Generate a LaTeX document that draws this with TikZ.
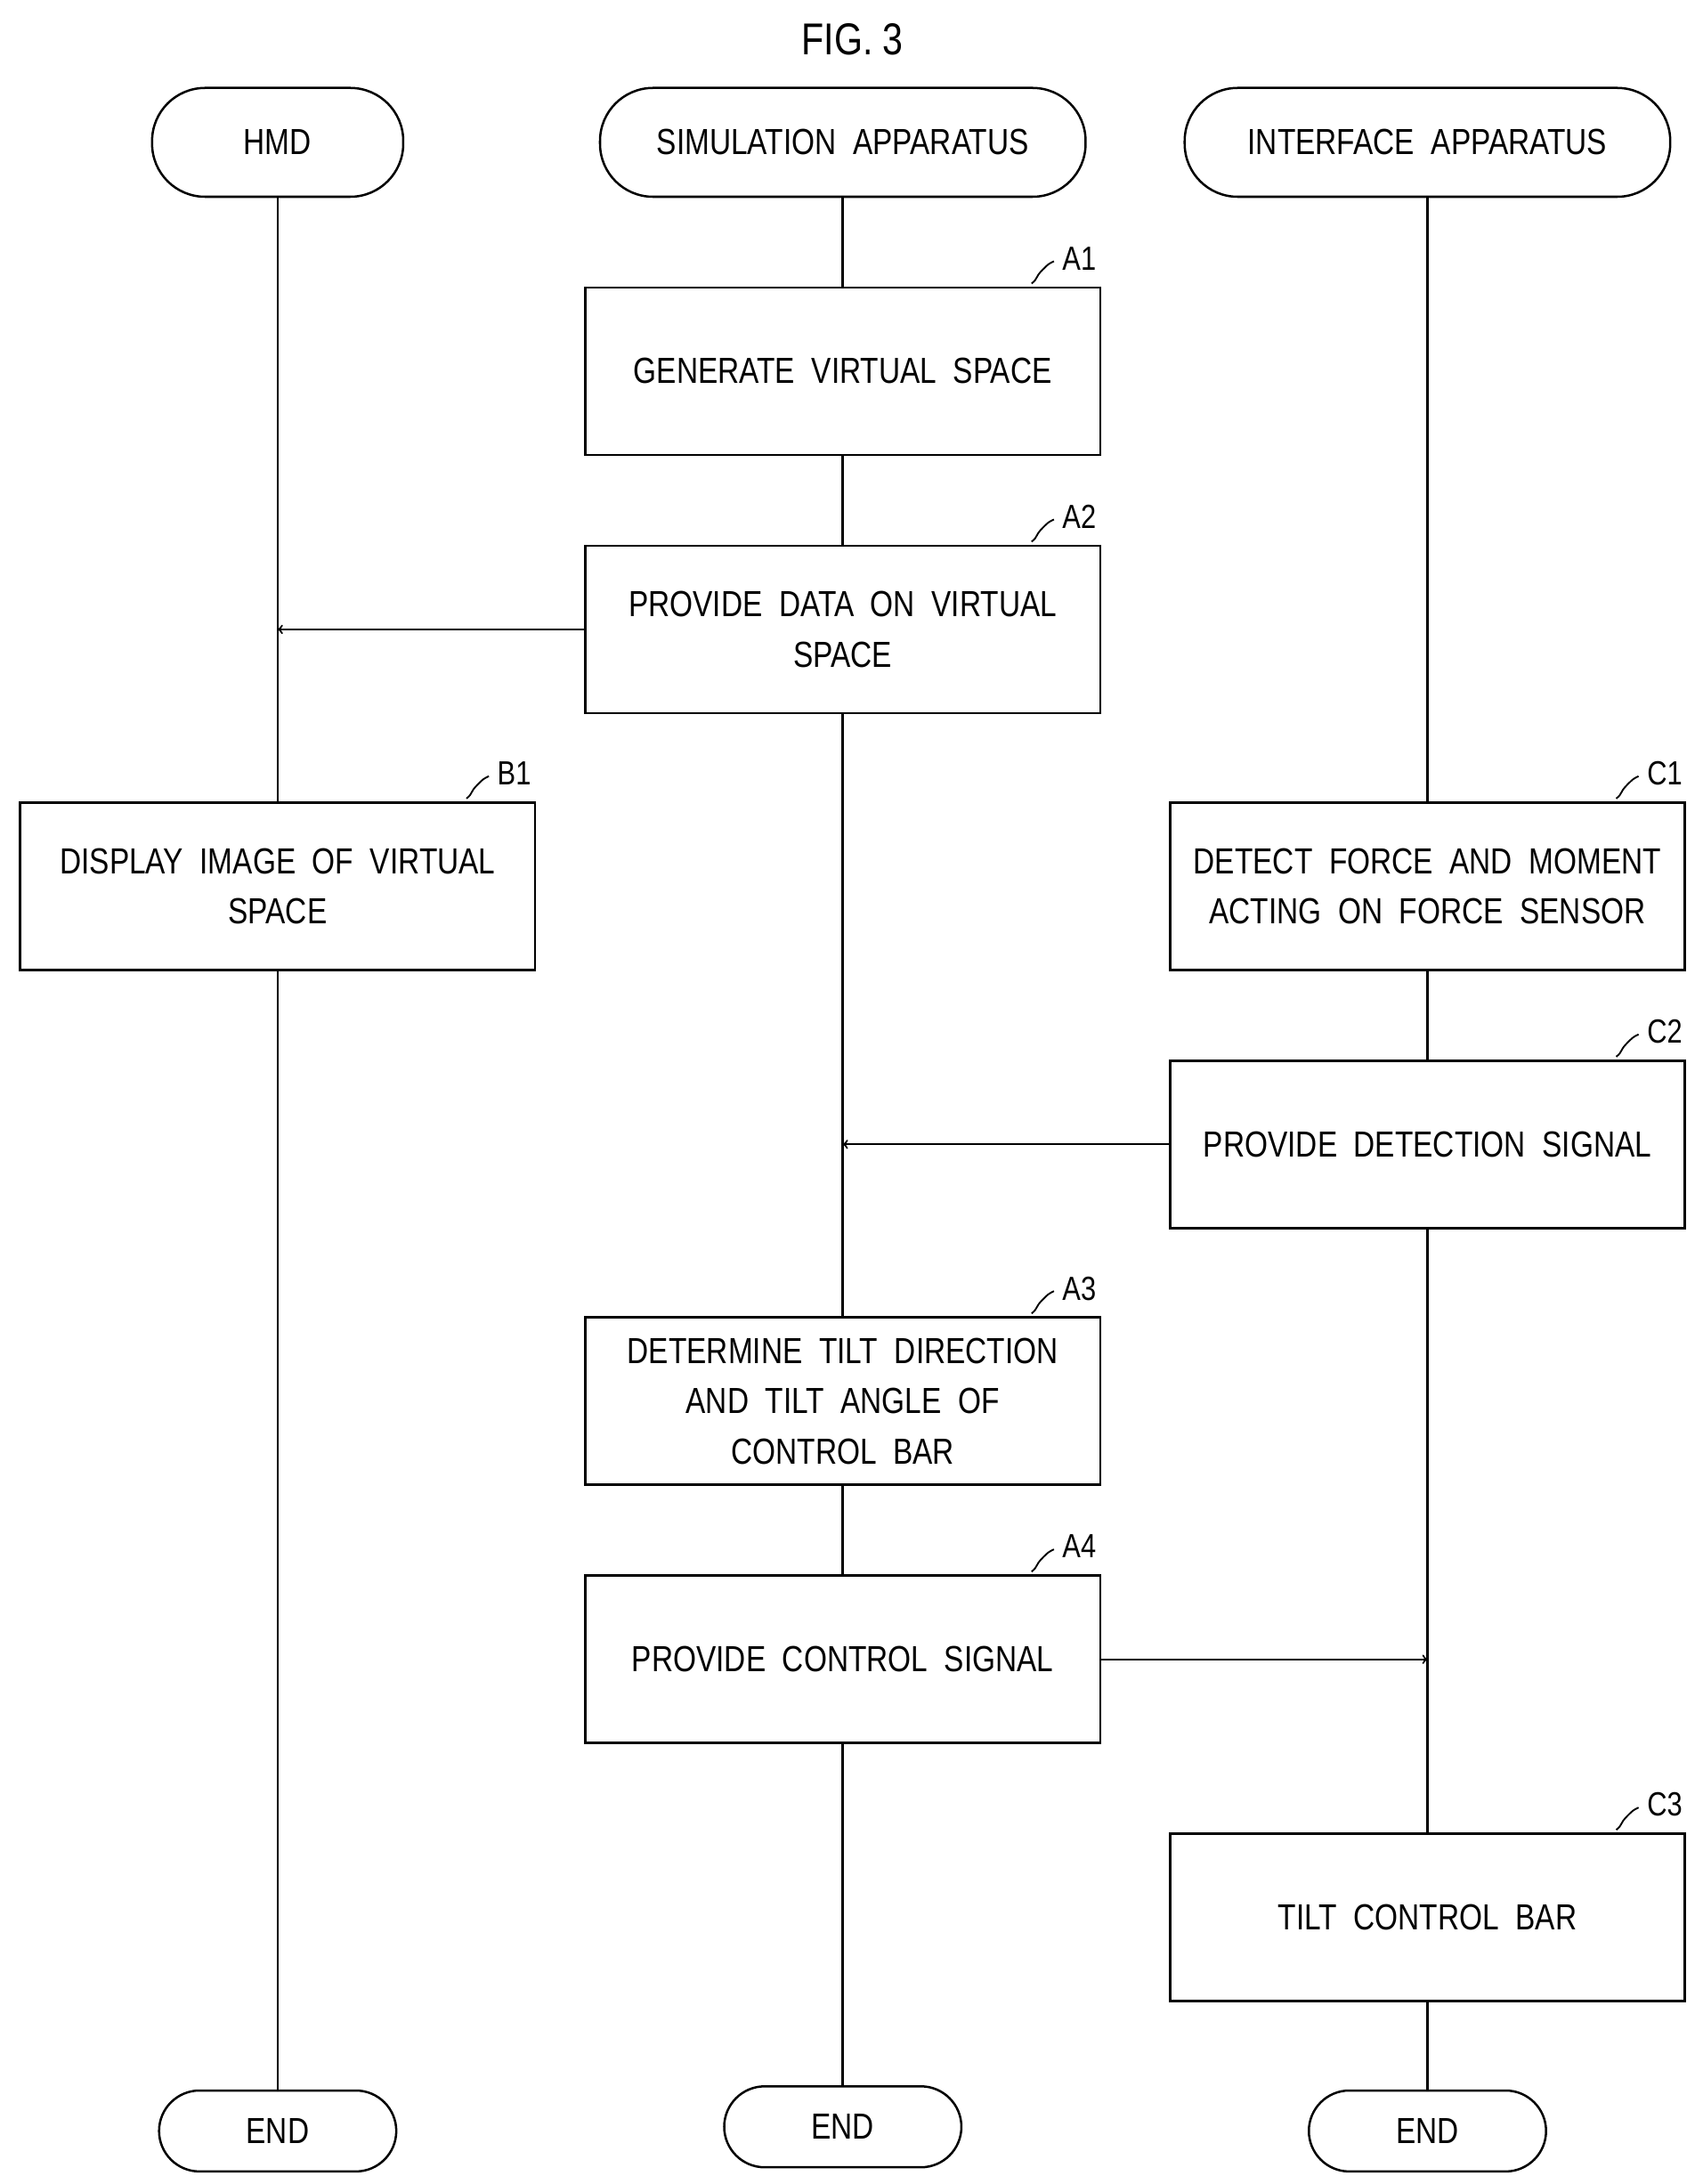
\documentclass[tikz,border=0pt]{standalone}
\usepackage{fontspec}
\setmainfont{Liberation Sans}[FakeStretch=0.82]
\begin{document}
\begin{tikzpicture}[x=1pt,y=-1pt,line width=1.6pt,
  term/.style={draw,rounded rectangle,minimum height=78pt,font=\fontsize{26}{30}\selectfont},
  box/.style={draw,minimum width=369pt,minimum height=120pt,align=center,font=\fontsize{26}{36}\selectfont,inner sep=2pt},
  lab/.style={font=\fontsize{24}{26}\selectfont,anchor=west},
  arr/.style={->,>=to,line width=1.4pt}]
\useasboundingbox (0,0) rectangle (1220,1565);
\tikzset{rounded rectangle/.style={rounded corners=38pt}}
\node[font=\fontsize{32}{36}\selectfont] (title) at (611,28) {FIG. 3};
\node[draw,rounded corners=38pt,minimum width=180pt,minimum height=78pt,font=\fontsize{26}{30}\selectfont] (hmd) at (199,102) {HMD};
\node[draw,rounded corners=38pt,minimum width=348pt,minimum height=78pt,font=\fontsize{26}{30}\selectfont] (sim) at (604,102) {SIMULATION\ \ APPARATUS};
\node[draw,rounded corners=38pt,minimum width=348pt,minimum height=78pt,font=\fontsize{26}{30}\selectfont] (ifa) at (1023,102) {INTERFACE\ \ APPARATUS};
\node[draw,rounded corners=29pt,minimum width=170pt,minimum height=58pt,font=\fontsize{26}{30}\selectfont] (e1) at (199,1527) {END};
\node[draw,rounded corners=29pt,minimum width=170pt,minimum height=58pt,font=\fontsize{26}{30}\selectfont] (e2) at (604,1524) {END};
\node[draw,rounded corners=29pt,minimum width=170pt,minimum height=58pt,font=\fontsize{26}{30}\selectfont] (e3) at (1023,1527) {END};
\draw (hmd) -- (e1);
\draw (sim) -- (e2);
\draw (ifa) -- (e3);
\node[box,fill=white] (a1) at (604,266) {GENERATE\ \ VIRTUAL\ \ SPACE};
\node[box,fill=white] (a2) at (604,451) {PROVIDE\ \ DATA\ \ ON\ \ VIRTUAL\\SPACE};
\node[box,fill=white] (b1) at (199,635) {DISPLAY\ \ IMAGE\ \ OF\ \ VIRTUAL\\SPACE};
\node[box,fill=white] (c1) at (1023,635) {DETECT\ \ FORCE\ \ AND\ \ MOMENT\\ACTING\ \ ON\ \ FORCE\ \ SENSOR};
\node[box,fill=white] (c2) at (1023,820) {PROVIDE\ \ DETECTION\ \ SIGNAL};
\node[box,fill=white] (a3) at (604,1004) {DETERMINE\ \ TILT\ \ DIRECTION\\AND\ \ TILT\ \ ANGLE\ \ OF\\CONTROL\ \ BAR};
\node[box,fill=white] (a4) at (604,1189) {PROVIDE\ \ CONTROL\ \ SIGNAL};
\node[box,fill=white] (c3) at (1023,1374) {TILT\ \ CONTROL\ \ BAR};
\coordinate (h1) at (199,451);
\coordinate (s1) at (604,820);
\coordinate (i1) at (1023,1189);
\draw[arr] (a2.west) -- (h1);
\draw[arr] (c2.west) -- (s1);
\draw[arr] (a4.east) -- (i1);
\foreach \n/\t in {a1/A1,a2/A2,b1/B1,c1/C1,c2/C2,a3/A3,a4/A4,c3/C3}{
  \draw[line width=1.2pt] ([shift={(-50,-2)}]\n.north east) .. controls +(5,-4) and +(-6,6) .. ([shift={(-42,-12)}]\n.north east) .. controls +(4,-4) .. ([shift={(-34,-18)}]\n.north east);
  \node[lab] (l\n) at ([shift={(-32,-20)}]\n.north east) {\t};
}
\end{tikzpicture}
\end{document}
